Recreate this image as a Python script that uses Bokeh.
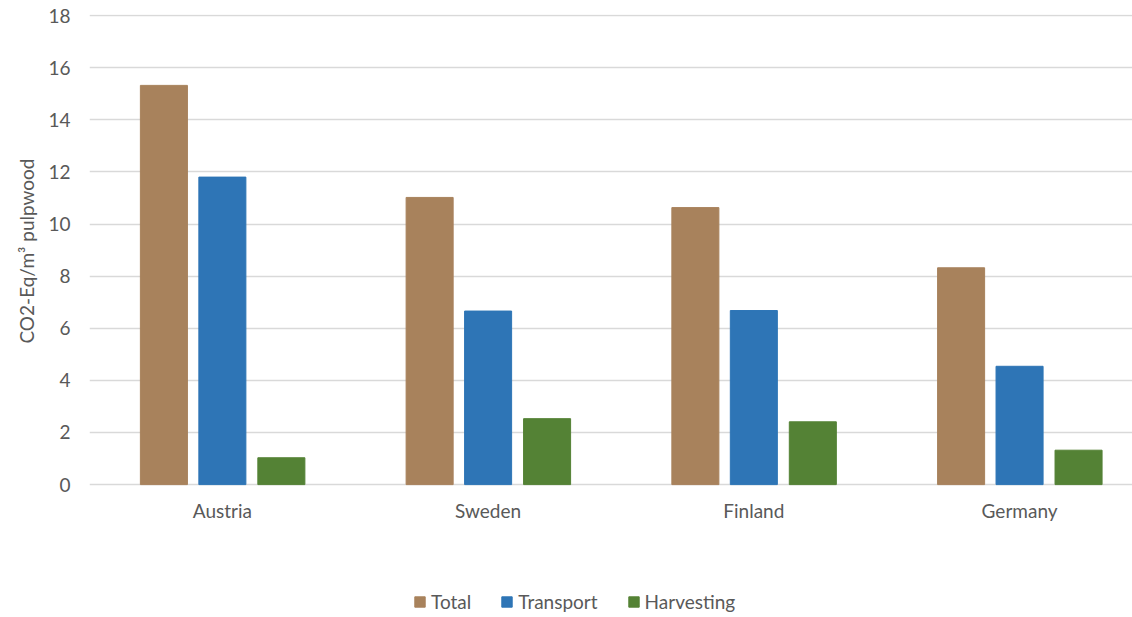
from bokeh.plotting import figure
from bokeh.models import Range1d, FixedTicker, ColumnDataSource, Legend, LegendItem, Title
from bokeh.core.properties import value
from bokeh.transform import dodge
from bokeh.embed import file_html
from bokeh.resources import INLINE

countries = ["Austria", "Sweden", "Finland", "Germany"]
total = [15.32, 11.02, 10.63, 8.32]
transport = [11.8, 6.66, 6.68, 4.54]
harvesting = [1.03, 2.53, 2.41, 1.32]
y_ticks = [0, 2, 4, 6, 8, 10, 12, 14, 16, 18]
y_label = "CO2-Eq/m³ pulpwood"

src = ColumnDataSource(dict(idx=list(range(len(countries))), country=countries, total=total,
                            transport=transport, harvesting=harvesting,
                            base=[0] * len(countries)))

FONT = "Lato"
GREY = "#595959"

# the frame reaches the bottom of the page; the band below 0 holds the category labels and legend
p = figure(width=1132, height=617, output_backend="svg", toolbar_location=None,
           x_axis_location=None,
           x_range=Range1d(-0.5, 3.425), y_range=Range1d(-5.1, 18.04),
           min_border_left=89, min_border_right=0, min_border_top=14, min_border_bottom=0)
p.outline_line_color = None
p.background_fill_color = "white"

w = 0.177
r1 = p.vbar(x=dodge("idx", -0.22, range=p.x_range), top="total", width=w, source=src,
            fill_color="#A8825C", line_color="#A8825C")
r2 = p.vbar(x=dodge("idx", 0.0, range=p.x_range), top="transport", width=w, source=src,
            fill_color="#2E75B6", line_color="#2E75B6")
r3 = p.vbar(x=dodge("idx", 0.222, range=p.x_range), top="harvesting", width=w, source=src,
            fill_color="#548235", line_color="#548235")

p.text(x="idx", y="base", text="country", source=src, y_offset=26,
       text_align="center", text_baseline="middle", text_font=value(FONT),
       text_font_size="19px", text_color=GREY)

p.xgrid.grid_line_color = None
p.ygrid.grid_line_color = "#d9d9d9"
p.ygrid.grid_line_width = 1.3
p.yaxis.ticker = FixedTicker(ticks=y_ticks)

ax = p.yaxis[0]
ax.axis_line_color = None
ax.major_tick_line_color = None
ax.minor_tick_line_color = None
ax.major_label_text_font = FONT
ax.major_label_text_color = GREY
ax.major_label_text_font_size = "19px"
ax.major_label_standoff = 13

# vertical axis title, centred on the 0..18 span rather than on the whole frame
p.add_layout(Title(text=y_label, align="right", offset=144, standoff=16,
                   text_font=FONT, text_font_size="19px", text_font_style="normal",
                   text_color=GREY), "left")

legend = Legend(items=[LegendItem(label="Total", renderers=[r1]),
                       LegendItem(label="Transport", renderers=[r2]),
                       LegendItem(label="Harvesting", renderers=[r3])],
                orientation="horizontal", location=(324, 4))
legend.border_line_color = None
legend.background_fill_alpha = 0
legend.padding = 0
legend.margin = 0
legend.spacing = 29
legend.glyph_width = 13
legend.glyph_height = 13
legend.label_standoff = 5
legend.label_text_font = FONT
legend.label_text_font_size = "19px"
legend.label_text_color = GREY
p.add_layout(legend, "center")

open("out.html", "w").write(file_html(p, INLINE))
